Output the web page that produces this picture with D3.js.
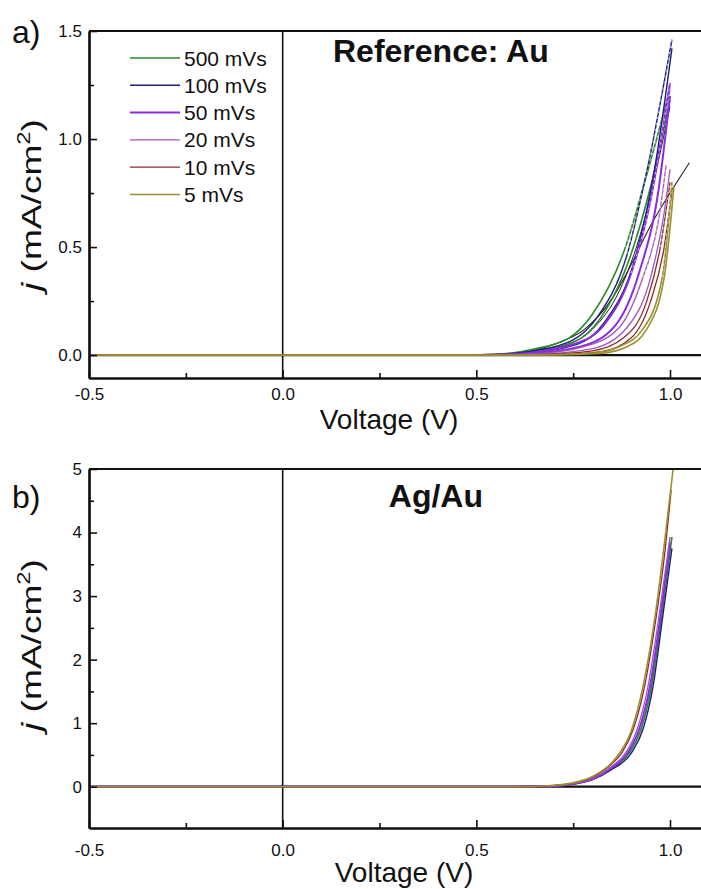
<!DOCTYPE html>
<html>
<head>
<meta charset="utf-8">
<script src="https://cdnjs.cloudflare.com/ajax/libs/d3/7.8.5/d3.min.js"></script>
<style>
  body { margin: 0; background: #fff; }
  svg text { font-family: "Liberation Sans", Arial, sans-serif; fill: #111; }
</style>
</head>
<body>
<svg id="chart" width="701" height="889"></svg>
<script>
// scan rates and colours
var rates = ["500 mVs", "100 mVs", "50 mVs", "20 mVs", "10 mVs", "5 mVs"];
var colors = ["#2a8a2a", "#1e1e7a", "#8a2be2", "#a055c0", "#8b2a2a", "#9a9030"];
var widths = [1.6, 1.4, 2.0, 1.3, 1.3, 1.6];

var xTicks = [-0.5, 0.0, 0.5, 1.0];
var xMinor = [-0.25, 0.25, 0.75];
var yTicksA = [0.0, 0.5, 1.0, 1.5];
var yMinorA = [0.25, 0.75, 1.25];
var yTicksB = [0, 1, 2, 3, 4, 5];
var yMinorB = [0.5, 1.5, 2.5, 3.5, 4.5];

// panel a) Reference: Au, two branches of each loop [V, j]
var aUp = [
  [[-0.5,0],[0.5,0],[0.55,0.002],[0.64,0.025],[0.74,0.08],[0.8,0.19],[0.885,0.5],[0.936,0.81],[1.0,1.23]],
  [[-0.5,0],[0.5,0],[0.55,0.002],[0.65,0.02],[0.75,0.07],[0.81,0.17],[0.89,0.47],[0.94,0.85],[1.005,1.46]],
  [[-0.5,0],[0.5,0],[0.6,0.005],[0.75,0.05],[0.83,0.14],[0.9,0.38],[0.95,0.72],[1.0,1.26]],
  [[-0.5,0],[0.55,0],[0.65,0.005],[0.78,0.04],[0.87,0.13],[0.93,0.36],[0.97,0.62],[0.99,0.88]],
  [[-0.5,0],[0.55,0],[0.65,0.002],[0.8,0.02],[0.88,0.08],[0.94,0.25],[0.975,0.5],[1.0,0.8]],
  [[-0.5,0],[0.55,0],[0.65,0.001],[0.8,0.01],[0.87,0.04],[0.93,0.12],[0.98,0.36],[1.005,0.8]]
];
var aDown = [
  [[0.5,0],[0.6,0.01],[0.75,0.06],[0.82,0.17],[0.9,0.47],[0.95,0.78],[1.0,1.18]],
  [[0.5,0],[0.6,0.005],[0.76,0.05],[0.83,0.15],[0.91,0.45],[0.96,0.86],[1.005,1.42]],
  [[0.5,0],[0.62,0.005],[0.77,0.04],[0.86,0.14],[0.92,0.38],[0.97,0.76],[1.0,1.2]],
  [[0.55,0],[0.65,0.003],[0.8,0.03],[0.89,0.13],[0.95,0.36],[0.985,0.66],[1.0,0.86]],
  [[0.55,0],[0.7,0.002],[0.82,0.015],[0.9,0.08],[0.95,0.25],[0.985,0.5],[1.005,0.76]],
  [[0.55,0],[0.7,0.001],[0.82,0.008],[0.89,0.04],[0.94,0.12],[0.985,0.36],[1.01,0.78]]
];
// thin black traces in panel a)
var aBlack = [[0.55,0],[0.62,0.01],[0.7,0.05],[0.78,0.12],[0.85,0.26],[0.9,0.42],[0.95,0.6],[1.0,0.75],[1.05,0.89]];
var aBlack2 = [[0.6,0.005],[0.72,0.04],[0.8,0.12],[0.87,0.3],[0.93,0.6],[0.97,0.9],[1.0,1.15]];

// panel b) Ag/Au
var bCurves = [
  [[-0.5,0],[0.6,0],[0.7,0.012],[0.75,0.045],[0.8,0.12],[0.85,0.29],[0.895,0.53],[0.925,0.9],[0.952,1.57],[0.977,2.62],[1.005,3.93]],
  [[-0.5,0],[0.6,0],[0.7,0.01],[0.75,0.04],[0.8,0.11],[0.85,0.27],[0.9,0.53],[0.93,0.9],[0.956,1.57],[0.98,2.62],[1.005,3.75]],
  [[-0.5,0],[0.6,0],[0.7,0.012],[0.75,0.045],[0.8,0.12],[0.85,0.3],[0.89,0.53],[0.92,0.9],[0.948,1.57],[0.974,2.62],[1.0,3.85]],
  [[-0.5,0],[0.6,0],[0.7,0.015],[0.75,0.05],[0.8,0.13],[0.85,0.32],[0.885,0.53],[0.915,0.9],[0.943,1.57],[0.97,2.62],[1.0,3.93]],
  [[-0.5,0],[0.6,0],[0.7,0.02],[0.75,0.055],[0.8,0.15],[0.85,0.36],[0.875,0.53],[0.905,0.9],[0.935,1.6],[0.963,2.62],[0.985,3.6],[1.003,4.67]],
  [[-0.5,0],[0.6,0],[0.7,0.02],[0.75,0.06],[0.8,0.16],[0.85,0.38],[0.87,0.53],[0.9,0.88],[0.93,1.57],[0.96,2.62],[0.985,3.8],[1.008,5.0]]
];

var svg = d3.select("#chart");
var fmt1 = function (d) { return d.toFixed(1); };

function drawPanel(p) {
  var x = d3.scaleLinear().domain([-0.5, 1.08]).range([89, 701]);
  var y = d3.scaleLinear().domain(p.yDomain).range([p.bottom, p.top]);
  var g = svg.append("g");
  var line = d3.line().curve(d3.curveMonotoneX)
    .x(function (d) { return x(d[0]); })
    .y(function (d) { return y(d[1]); });

  // zero lines
  g.append("line").attr("x1", x(0)).attr("x2", x(0)).attr("y1", p.top).attr("y2", p.bottom)
    .attr("stroke", "#111").attr("stroke-width", 1.6);
  g.append("line").attr("x1", 89).attr("x2", 701).attr("y1", y(0)).attr("y2", y(0))
    .attr("stroke", "#111").attr("stroke-width", 2.2);

  p.draw(g, line);

  // frame
  g.append("line").attr("x1", 89).attr("x2", 701).attr("y1", p.top).attr("y2", p.top)
    .attr("stroke", "#111").attr("stroke-width", 2.2);

  // axes, ticks pointing inward
  g.append("g").attr("transform", "translate(0," + p.bottom + ")")
    .call(d3.axisBottom(x).tickValues(xTicks).tickFormat(fmt1)
      .tickSizeInner(-8).tickSizeOuter(0).tickPadding(p.xPad));
  g.append("g").attr("transform", "translate(0," + p.bottom + ")")
    .call(d3.axisBottom(x).tickValues(xMinor).tickFormat("").tickSizeInner(-5).tickSizeOuter(0));
  g.append("g").attr("transform", "translate(89,0)")
    .call(d3.axisLeft(y).tickValues(p.yTicks).tickFormat(p.yFormat)
      .tickSizeInner(-8).tickSizeOuter(0).tickPadding(7));
  g.append("g").attr("transform", "translate(89,0)")
    .call(d3.axisLeft(y).tickValues(p.yMinor).tickFormat("").tickSizeInner(-5).tickSizeOuter(0));
  g.selectAll(".domain").attr("stroke", "#111").attr("stroke-width", 2.2);
  g.selectAll(".tick line").attr("stroke", "#111").attr("stroke-width", 1.6);
  g.selectAll(".tick text").style("font-size", "17px").style("font-family", "Liberation Sans, Arial, sans-serif").attr("fill", "#222");

  // labels
  g.append("text").attr("x", p.xTitleX).attr("y", p.xTitleY).attr("text-anchor", "middle")
    .style("font-size", "28px").text("Voltage (V)");
  var yt = g.append("text").attr("transform", "translate(41," + p.yTitleC + ") rotate(-90)")
    .attr("text-anchor", "middle").style("font-size", "28px")
    .attr("textLength", 172).attr("lengthAdjust", "spacingAndGlyphs");
  yt.append("tspan").style("font-style", "italic").text("j");
  yt.append("tspan").text(" (mA/cm");
  yt.append("tspan").attr("dy", -11).style("font-size", "18px").text("2");
  yt.append("tspan").attr("dy", 11).text(")");
  g.append("text").attr("x", 12).attr("y", p.letterY).style("font-size", "32px").text(p.letter);
  g.append("text").attr("x", p.titleX).attr("y", p.titleY).attr("text-anchor", p.titleAnchor)
    .style("font-size", "32px").style("font-weight", "bold").text(p.title);
}

drawPanel({
  top: 31, bottom: 378, yDomain: [-0.106, 1.5], yTicks: yTicksA, yMinor: yMinorA,
  yFormat: fmt1, xPad: 10, xTitleX: 389, xTitleY: 429, yTitleC: 205, letter: "a)", letterY: 43,
  title: "Reference: Au", titleX: 333, titleY: 62, titleAnchor: "start",
  draw: function (g, line) {
    g.append("path").attr("d", line(aBlack2)).attr("fill", "none").attr("stroke", "#222").attr("stroke-width", 1);
    g.append("path").attr("d", line(aBlack)).attr("fill", "none").attr("stroke", "#222").attr("stroke-width", 1.1);
    rates.forEach(function (r, i) {
      [aDown[i], aUp[i]].forEach(function (d) {
        g.append("path").attr("d", line(d)).attr("fill", "none")
          .attr("stroke", colors[i]).attr("stroke-width", widths[i]);
      });
      g.append("path").attr("d", line(aUp[i].filter(function (d) { return d[1] > 0.3; })))
        .attr("fill", "none").attr("stroke", "#fff").attr("stroke-width", 0.7)
        .attr("stroke-dasharray", "2,4");
    });
    // legend
    rates.forEach(function (r, i) {
      var yy = 58 + i * 27.3;
      g.append("line").attr("x1", 130).attr("x2", 180).attr("y1", yy).attr("y2", yy)
        .attr("stroke", colors[i]).attr("stroke-width", widths[i]);
      g.append("text").attr("x", 184).attr("y", yy + 7.5).style("font-size", "21px").text(r);
    });
  }
});

drawPanel({
  top: 469, bottom: 828, yDomain: [-0.65, 5], yTicks: yTicksB, yMinor: yMinorB,
  yFormat: d3.format("d"), xPad: 16, xTitleX: 404, xTitleY: 882, yTitleC: 645, letter: "b)", letterY: 508,
  title: "Ag/Au", titleX: 483, titleY: 507, titleAnchor: "end",
  draw: function (g, line) {
    rates.forEach(function (r, i) {
      g.append("path").attr("d", line(bCurves[i])).attr("fill", "none")
        .attr("stroke", colors[i]).attr("stroke-width", widths[i]);
    });
  }
});
</script>
</body>
</html>
